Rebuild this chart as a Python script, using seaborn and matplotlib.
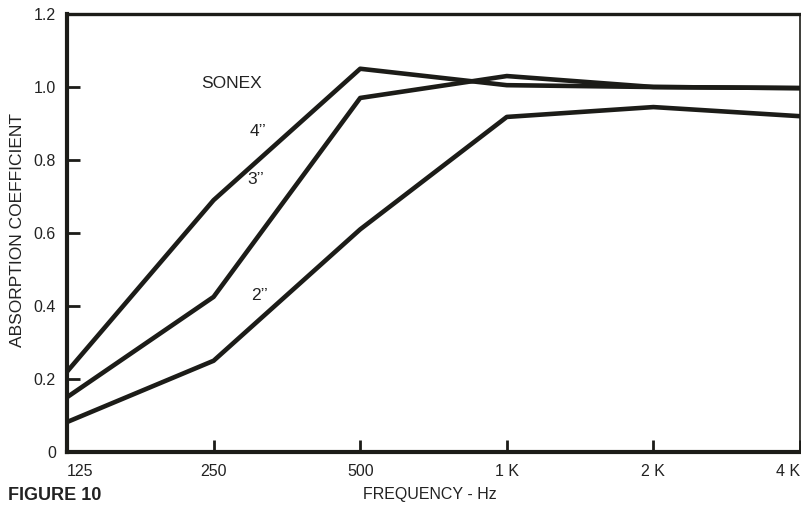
import matplotlib
matplotlib.use("Agg")
import matplotlib.pyplot as plt
import seaborn as sns
import pandas as pd

frequencies = ["125", "250", "500", "1 K", "2 K", "4 K"]
sonex_4in = [0.22, 0.69, 1.05, 1.005, 1.0, 0.997]
sonex_3in = [0.15, 0.425, 0.97, 1.03, 1.0, 0.997]
sonex_2in = [0.082, 0.25, 0.61, 0.918, 0.945, 0.92]
y_ticks = [0, 0.2, 0.4, 0.6, 0.8, 1.0, 1.2]
y_tick_labels = ["0", "0.2", "0.4", "0.6", "0.8", "1.0", "1.2"]

rows = []
for name, vals in [("4\u2019\u2019", sonex_4in), ("3\u2019\u2019", sonex_3in), ("2\u2019\u2019", sonex_2in)]:
    for i, v in enumerate(vals):
        rows.append({"pos": i, "coef": v, "thickness": name})
df = pd.DataFrame(rows)

sns.set_theme(style="white")
plt.rcParams["font.family"] = ["Liberation Sans", "DejaVu Sans"]

ink = "#1c1c18"
txt = "#222222"
fig = plt.figure(figsize=(8.01, 5.08), dpi=100)
ax = fig.add_axes([67 / 801, 56 / 508, (800 - 67) / 801, (452 - 14) / 508])

sns.lineplot(data=df, x="pos", y="coef", hue="thickness",
             palette={k: ink for k in df["thickness"].unique()},
             linewidth=3.3, legend=False, ax=ax, solid_capstyle="round")

ax.set_xlim(0, 5)
ax.set_ylim(0, 1.2)
ax.set_xticks(range(len(frequencies)))
ax.set_xticklabels(frequencies)
ax.set_yticks(y_ticks)
ax.set_yticklabels(y_tick_labels)
ax.set_xlabel("")
ax.set_ylabel("")

ax.tick_params(axis="both", which="major", direction="in", length=9, width=2.0,
               color=ink, labelsize=11.5, labelcolor=txt,
               left=True, bottom=True, top=False, right=False)
ax.tick_params(axis="y", pad=8)
ax.tick_params(axis="x", pad=9)
xl = ax.get_xticklabels()
xl[0].set_horizontalalignment("left")
xl[-1].set_horizontalalignment("right")

for side, lw in [("left", 3.0), ("bottom", 3.0), ("top", 2.4), ("right", 1.2)]:
    ax.spines[side].set_visible(True)
    ax.spines[side].set_linewidth(lw)
    ax.spines[side].set_color(ink)

for label, (px, py) in [("SONEX", (232, 83)), ("4\u2019\u2019", (258, 131)),
                        ("3\u2019\u2019", (256, 180)), ("2\u2019\u2019", (259, 296))]:
    ax.annotate(label, xy=(px, 508 - py), xycoords="figure pixels",
                ha="center", va="center", fontsize=12.5, color=txt)

fig.text(18 / 801, 1 - 230 / 508, "ABSORPTION COEFFICIENT", rotation=90,
         ha="center", va="center", fontsize=12.5, color=txt)
fig.text(430 / 801, 1 - 495 / 508, "FREQUENCY - Hz", ha="center", va="center",
         fontsize=11.5, color=txt)
fig.text(8 / 801, 1 - 496 / 508, "FIGURE 10", ha="left", va="center",
         fontsize=13, fontweight="bold", color=txt)

fig.savefig("out.png", dpi=100, facecolor="white")
